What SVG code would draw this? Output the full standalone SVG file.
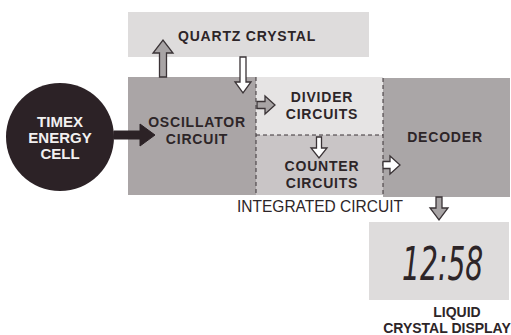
<svg xmlns="http://www.w3.org/2000/svg" width="511" height="335" viewBox="0 0 511 335">
<style>
.lbl{font-family:"Liberation Sans",Arial,sans-serif;font-weight:bold;font-size:14px;letter-spacing:0.8px;fill:#2d2528;text-anchor:middle}
.sml{font-family:"Liberation Sans",Arial,sans-serif;font-weight:bold;font-size:14px;fill:#2d2528;text-anchor:middle}
.wht{font-family:"Liberation Sans",Arial,sans-serif;font-weight:bold;font-size:15px;fill:#f2f0f0;text-anchor:middle}
.reg{font-family:"Liberation Sans",Arial,sans-serif;font-size:16px;fill:#2d2528}
.dash{stroke:#3a3336;stroke-width:1;stroke-dasharray:4 3;fill:none}
.arW{fill:#ffffff;stroke:#3a3336;stroke-width:1.3}
.arG{fill:#a8a4a5;stroke:#3a3336;stroke-width:1.3}
.arD{fill:#2c2226;stroke:#2c2226;stroke-width:1}
</style>
<rect width="511" height="335" fill="#ffffff"/>
<g id="quartz">
<rect x="128" y="12" width="241" height="45" fill="#dedcdc"/>
<text class="lbl" x="247" y="41">QUARTZ CRYSTAL</text>
</g>
<g id="oscillator">
<rect x="128" y="77" width="128" height="118" fill="#aaa5a6"/>
<text class="lbl"><tspan x="197" y="127">OSCILLATOR</tspan><tspan x="197" y="143.5">CIRCUIT</tspan></text>
</g>
<g id="divider">
<rect x="256" y="77" width="127" height="58" fill="#e6e4e4"/>
<text class="lbl"><tspan x="322" y="102">DIVIDER</tspan><tspan x="322" y="118.5">CIRCUITS</tspan></text>
</g>
<g id="counter">
<rect x="256" y="135" width="127" height="60" fill="#c9c5c6"/>
<text class="lbl"><tspan x="322" y="171">COUNTER</tspan><tspan x="322" y="187.5">CIRCUITS</tspan></text>
</g>
<g id="decoder">
<rect x="383" y="78" width="127" height="119" fill="#aaa6a7"/>
<text class="lbl" x="445" y="142">DECODER</text>
</g>
<g id="ic-label">
<text class="reg" x="237" y="212" textLength="166" lengthAdjust="spacingAndGlyphs">INTEGRATED CIRCUIT</text>
</g>
<g id="cell">
<circle cx="60" cy="137" r="54" fill="#2c2226"/>
<text class="wht"><tspan x="60" y="127">TIMEX</tspan><tspan x="60" y="143">ENERGY</tspan><tspan x="60" y="159">CELL</tspan></text>
</g>
<g id="lcd">
<rect x="369" y="222" width="140" height="78" fill="#dedcdc"/>
<text transform="translate(402 280) scale(0.6 1)" x="0" y="0" font-family="'DejaVu Sans',sans-serif" font-style="italic" font-size="47" font-weight="200" fill="#2d2528">12:58</text>
<text class="sml"><tspan x="457" y="317">LIQUID</tspan><tspan x="447" y="333">CRYSTAL DISPLAY</tspan></text>
</g>
<g id="connectors">
<line class="dash" x1="256" y1="77" x2="256" y2="195"/>
<line class="dash" x1="256" y1="135" x2="383" y2="135"/>
<line class="dash" x1="383" y1="78" x2="383" y2="195"/>
<polygon class="arD" points="114,131 140,131 140,124 155,135 140,146 140,139 114,139"/>
<polygon class="arG" points="159.5,77 159.5,53 153,53 163,40 173,53 166.5,53 166.5,77"/>
<polygon class="arW" points="240,57 246,57 246,82 251,82 243,93 235,82 240,82"/>
<polygon class="arG" points="257,101.5 265,101.5 265,96 275,105 265,114 265,108.5 257,108.5"/>
<polygon class="arW" points="316.5,137 321.5,137 321.5,148 327,148 319,158 311,148 316.5,148"/>
<polygon class="arW" points="383,161.5 390,161.5 390,156 400,165 390,174 390,168.5 383,168.5"/>
<polygon class="arG" points="436,197 442,197 442,208 448,208 439,220 430,208 436,208"/>
</g>
</svg>
